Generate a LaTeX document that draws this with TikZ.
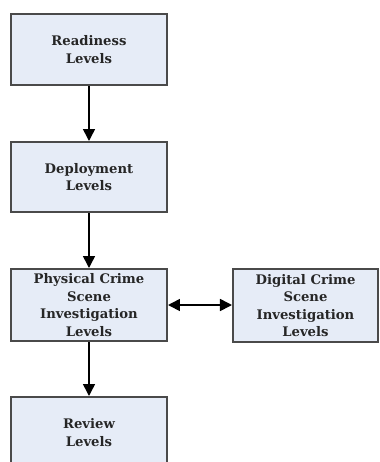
\documentclass[tikz,border=0pt]{standalone}
\usepackage{fontspec}
\setmainfont{DejaVu Serif}
\usetikzlibrary{arrows.meta}
\definecolor{boxfill}{HTML}{E6ECF7}
\definecolor{boxline}{HTML}{4A4A4A}
\begin{document}
\begin{tikzpicture}[x=0.5pt,y=-0.5pt,
  box/.style={draw=boxline, line width=1pt, fill=boxfill, inner sep=0pt,
    minimum width=78pt, align=center,
    font=\bfseries\fontsize{6.6}{8.7}\selectfont, text=black!85},
  conn/.style={line width=0.8pt, -{Triangle[length=6pt,width=6pt]}},
  biconn/.style={line width=0.8pt, {Triangle[length=6pt,width=6pt]}-{Triangle[length=6pt,width=6pt]}}]
\useasboundingbox (0,0) rectangle (380,462);
\clip (0,0) rectangle (380,462);
\node[box, minimum height=35.5pt] (b1) at (89,49.5) {Readiness\\Levels};
\node[box, minimum height=35pt] (b2) at (89,177) {Deployment\\Levels};
\node[box, minimum height=36pt] (b3) at (89,305) {Physical Crime\\Scene\\Investigation\\Levels};
\node[box, minimum height=36.5pt, minimum width=72.5pt] (b4) at (305.5,305.5) {Digital Crime\\Scene\\Investigation\\Levels};
\node[box, minimum height=35.5pt] (b5) at (89,432.5) {Review\\Levels};
\draw[conn] (b1) -- (b2);
\draw[conn] (b2) -- (b3);
\draw[conn] (b3) -- (b5);
\draw[biconn] (b3.east) -- (b4.west |- b3.east);
\end{tikzpicture}
\end{document}
